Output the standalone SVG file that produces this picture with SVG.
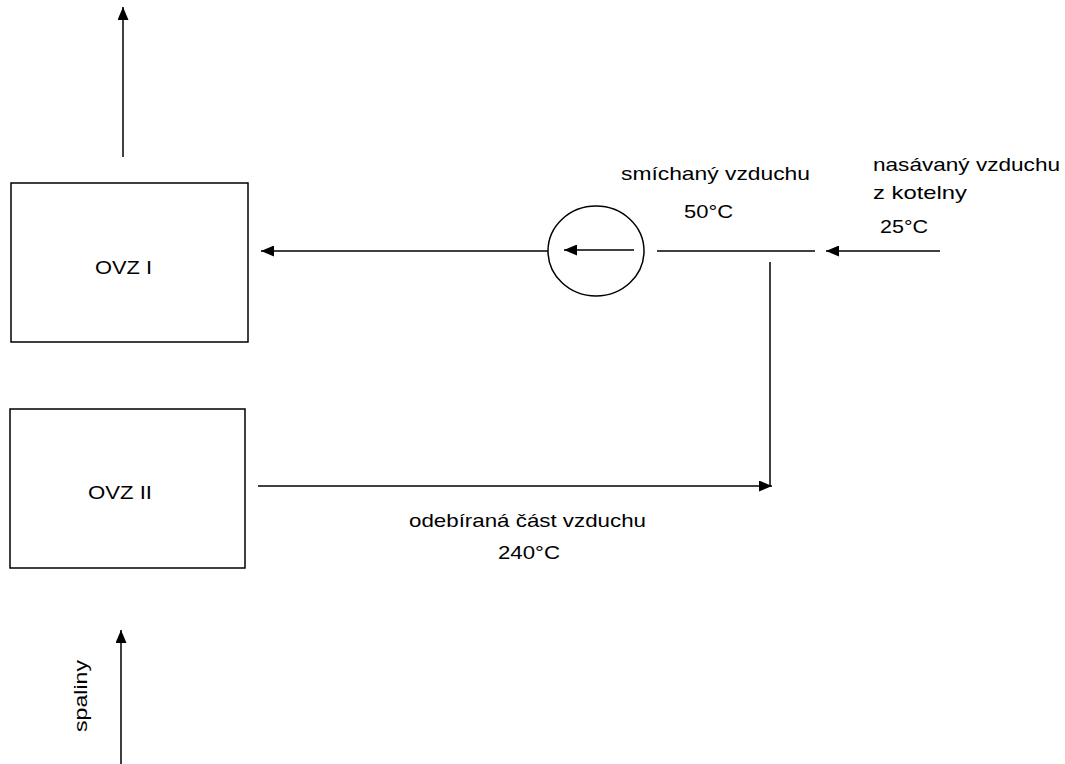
<svg xmlns="http://www.w3.org/2000/svg" width="1065" height="764" viewBox="0 0 1065 764">
  <style>
    .box { fill: #fff; stroke: #000; stroke-width: 1.5; }
    .ln { fill: none; stroke: #000; stroke-width: 1.5; }
    .t { font-family: "Liberation Sans", Arial, sans-serif; font-size: 19px; fill: #000; }
  </style>
  <defs>
    <marker id="ah" viewBox="0 0 13 11" refX="13" refY="5.5" markerWidth="13" markerHeight="11" markerUnits="userSpaceOnUse" orient="auto">
      <path d="M0,0 L13,5.5 L0,11 Z" fill="#000"/>
    </marker>
  </defs>
  <rect width="1065" height="764" fill="#fff"/>

  <g id="ovz1">
    <rect class="box" x="11" y="183" width="237" height="159"/>
    <text class="t" x="95" y="274" textLength="57" lengthAdjust="spacingAndGlyphs">OVZ I</text>
  </g>
  <g id="ovz2">
    <rect class="box" x="10" y="409" width="235" height="159"/>
    <text class="t" x="88" y="499" textLength="64" lengthAdjust="spacingAndGlyphs">OVZ II</text>
  </g>
  <g id="mixer">
    <ellipse class="ln" cx="596" cy="251" rx="48" ry="45"/>
  </g>

  <g id="connectors">
    <line class="ln" x1="123" y1="157" x2="123" y2="7" marker-end="url(#ah)"/>
    <line class="ln" x1="548" y1="251" x2="261" y2="251" marker-end="url(#ah)"/>
    <line class="ln" x1="634" y1="250" x2="564" y2="250" marker-end="url(#ah)"/>
    <line class="ln" x1="657" y1="251" x2="815" y2="251"/>
    <line class="ln" x1="940" y1="251" x2="826" y2="251" marker-end="url(#ah)"/>
    <line class="ln" x1="770" y1="262" x2="770" y2="486"/>
    <line class="ln" x1="258" y1="486" x2="772" y2="486" marker-end="url(#ah)"/>
    <line class="ln" x1="121" y1="764" x2="121" y2="630" marker-end="url(#ah)"/>
  </g>

  <g id="labels">
    <text class="t" x="621" y="180" textLength="189" lengthAdjust="spacingAndGlyphs">smíchaný vzduchu</text>
    <text class="t" x="684" y="218" textLength="49" lengthAdjust="spacingAndGlyphs">50°C</text>
    <text class="t" x="873" y="171" textLength="187" lengthAdjust="spacingAndGlyphs">nasávaný vzduchu</text>
    <text class="t" x="873" y="199" textLength="94" lengthAdjust="spacingAndGlyphs">z kotelny</text>
    <text class="t" x="880" y="233" textLength="48" lengthAdjust="spacingAndGlyphs">25°C</text>
    <text class="t" x="409" y="527" textLength="237" lengthAdjust="spacingAndGlyphs">odebíraná část vzduchu</text>
    <text class="t" x="498" y="559" textLength="62" lengthAdjust="spacingAndGlyphs">240°C</text>
    <text class="t" x="0" y="0" textLength="72" lengthAdjust="spacingAndGlyphs" transform="translate(87,732) rotate(-90)">spaliny</text>
  </g>
</svg>
